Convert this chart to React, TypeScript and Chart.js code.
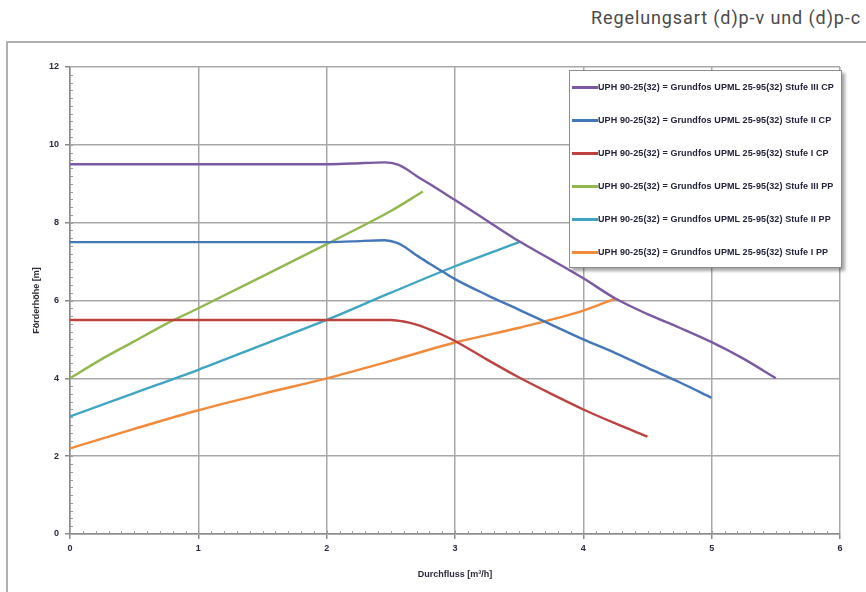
import React, { useEffect, useRef } from "react";
import { Chart, registerables } from "chart.js";

Chart.register(...registerables);

const PAGE_TITLE = "Regelungsart (d)p-v und (d)p-c";
const X_TITLE = "Durchfluss [m³/h]";
const Y_TITLE = "Förderhöhe [m]";
const X_MIN = 0;
const X_MAX = 6;
const Y_MIN = 0;
const Y_MAX = 12;
const X_STEP = 1;
const Y_STEP = 2;
const X_MINOR = 0.1;
const Y_MINOR = 0.2;

const LABELS = [
  "UPH 90-25(32) = Grundfos UPML 25-95(32) Stufe III CP",
  "UPH 90-25(32) = Grundfos UPML 25-95(32) Stufe II CP",
  "UPH 90-25(32) = Grundfos UPML 25-95(32) Stufe I CP",
  "UPH 90-25(32) = Grundfos UPML 25-95(32) Stufe III PP",
  "UPH 90-25(32) = Grundfos UPML 25-95(32) Stufe II PP",
  "UPH 90-25(32) = Grundfos UPML 25-95(32) Stufe I PP",
];
const COLORS = ["#7b5aa3", "#4477b8", "#bd4341", "#91b84b", "#3ea6c2", "#f28a3a"];

// Stufe III CP
const cp3X = [0, 0.5, 1, 1.5, 2, 2.2, 2.45, 2.55, 2.62, 2.7, 2.8, 3.0, 3.25, 3.5, 3.75, 4.0, 4.25, 4.5, 4.75, 5.0, 5.25, 5.5];
const cp3Y = [9.5, 9.5, 9.5, 9.5, 9.5, 9.52, 9.55, 9.5, 9.38, 9.2, 9.0, 8.58, 8.05, 7.52, 7.05, 6.57, 6.05, 5.65, 5.3, 4.93, 4.5, 4.0];
// Stufe II CP
const cp2X = [0, 0.5, 1, 1.5, 2, 2.2, 2.45, 2.55, 2.62, 2.7, 2.8, 2.9, 3.0, 3.25, 3.5, 3.75, 4.0, 4.25, 4.5, 4.75, 5.0];
const cp2Y = [7.5, 7.5, 7.5, 7.5, 7.5, 7.52, 7.55, 7.48, 7.35, 7.16, 6.95, 6.75, 6.55, 6.14, 5.76, 5.38, 5.0, 4.65, 4.27, 3.9, 3.5];
// Stufe I CP
const cp1X = [0, 0.5, 1, 1.5, 2, 2.3, 2.5, 2.6, 2.7, 2.8, 2.9, 3.0, 3.25, 3.5, 3.75, 4.0, 4.25, 4.5];
const cp1Y = [5.5, 5.5, 5.5, 5.5, 5.5, 5.5, 5.5, 5.46, 5.38, 5.26, 5.12, 4.96, 4.48, 4.02, 3.6, 3.2, 2.84, 2.5];
// Stufe III PP
const pp3X = [0, 0.25, 0.5, 0.75, 1, 1.5, 2, 2.5, 2.75];
const pp3Y = [4.0, 4.5, 4.95, 5.4, 5.8, 6.62, 7.45, 8.3, 8.8];
// Stufe II PP
const pp2X = [0, 0.5, 1, 1.5, 2, 2.5, 3.0, 3.5];
const pp2Y = [3.02, 3.62, 4.22, 4.86, 5.5, 6.2, 6.88, 7.5];
// Stufe I PP
const pp1X = [0, 0.5, 1, 1.5, 2, 2.5, 3.0, 3.5, 4.0, 4.25];
const pp1Y = [2.2, 2.7, 3.18, 3.6, 4.0, 4.45, 4.92, 5.3, 5.74, 6.05];

const SERIES_X = [cp3X, cp2X, cp1X, pp3X, pp2X, pp1X];
const SERIES_Y = [cp3Y, cp2Y, cp1Y, pp3Y, pp2Y, pp1Y];

const TICK_FONT = { family: "'Liberation Sans', Arial, sans-serif", size: 9, weight: "bold" as const };
const TITLE_FONT = { family: "'Liberation Sans', Arial, sans-serif", size: 9, weight: "bold" as const };

const minorTicksPlugin = {
  id: "minorTicks",
  beforeDatasetsDraw(chart: any) {
    const { ctx, chartArea, scales } = chart;
    const xs = scales.x;
    const ys = scales.y;
    ctx.save();
    ctx.strokeStyle = "#9a9a9a";
    ctx.lineWidth = 1;
    ctx.beginPath();
    const nx = Math.round((X_MAX - X_MIN) / X_MINOR);
    for (let i = 1; i < nx; i++) {
      const px = Math.round(xs.getPixelForValue(X_MIN + i * X_MINOR)) + 0.5;
      ctx.moveTo(px, chartArea.bottom);
      ctx.lineTo(px, chartArea.bottom - 3);
    }
    const ny = Math.round((Y_MAX - Y_MIN) / Y_MINOR);
    for (let i = 1; i < ny; i++) {
      const py = Math.round(ys.getPixelForValue(Y_MIN + i * Y_MINOR)) + 0.5;
      ctx.moveTo(chartArea.left, py);
      ctx.lineTo(chartArea.left + 3, py);
    }
    ctx.stroke();
    ctx.restore();
  },
};

function ChartCanvas() {
  const ref = useRef<HTMLCanvasElement | null>(null);
  useEffect(() => {
    if (!ref.current) return;
    const datasets = LABELS.map((label, i) => ({
      label,
      data: SERIES_X[i].map((x, j) => ({ x, y: SERIES_Y[i][j] })),
      borderColor: COLORS[i],
      backgroundColor: COLORS[i],
      borderWidth: 2.4,
      pointRadius: 0,
      fill: false,
      cubicInterpolationMode: "monotone" as const,
    }));
    const chart = new Chart(ref.current, {
      type: "line",
      data: { datasets },
      plugins: [minorTicksPlugin],
      options: {
        animation: false,
        responsive: false,
        maintainAspectRatio: false,
        layout: { padding: { left: 0, top: 67, right: 26, bottom: 0 } },
        plugins: {
          legend: { display: false },
          tooltip: { enabled: false },
        },
        scales: {
          x: {
            type: "linear",
            min: X_MIN,
            max: X_MAX,
            ticks: {
              stepSize: X_STEP,
              font: TICK_FONT,
              color: "#2a2a3a",
              padding: 4,
              maxRotation: 0,
            },
            grid: { color: "#a8a8a8", lineWidth: 1.5, tickLength: 5, tickColor: "#8a8a8a" },
            border: { color: "#8a8a8a", width: 1.5 },
            title: {
              display: true,
              text: X_TITLE,
              font: TITLE_FONT,
              color: "#2a2a3a",
              padding: { top: 0, bottom: 12 },
            },
            afterFit: (s: any) => {
              s.height = 58;
            },
          },
          y: {
            type: "linear",
            min: Y_MIN,
            max: Y_MAX,
            ticks: {
              stepSize: Y_STEP,
              font: TICK_FONT,
              color: "#2a2a3a",
              padding: 6,
            },
            grid: { color: "#a8a8a8", lineWidth: 1.5, tickLength: 5, tickColor: "#8a8a8a" },
            border: { color: "#8a8a8a", width: 1.5 },
            title: {
              display: true,
              text: Y_TITLE,
              font: TITLE_FONT,
              color: "#2a2a3a",
              padding: { top: 31, bottom: 0 },
            },
            afterFit: (s: any) => {
              s.width = 70;
            },
          },
        },
      },
    });
    return () => chart.destroy();
  }, []);
  return (
    <canvas
      ref={ref}
      width={866}
      height={592}
      style={{ position: "absolute", left: 0, top: 0, width: 866, height: 592 }}
    />
  );
}

function Legend() {
  return (
    <div
      style={{
        position: "absolute",
        left: 569,
        top: 70,
        width: 273,
        height: 198,
        boxSizing: "border-box",
        border: "1.5px solid #8c8c8c",
        background: "#fff",
        boxShadow: "3px 3px 3px rgba(0,0,0,0.35)",
      }}
    >
      {LABELS.map((label, i) => (
        <div
          key={i}
          style={{
            position: "absolute",
            left: 2,
            top: 16 + i * 33 - 6,
            height: 12,
            display: "flex",
            alignItems: "center",
            whiteSpace: "nowrap",
          }}
        >
          <div style={{ width: 26, height: 3, background: COLORS[i] }} />
          <span
            style={{
              fontFamily: "'Liberation Sans', Arial, sans-serif",
              fontWeight: "bold",
              fontSize: 9,
              letterSpacing: "0.1px",
              color: "#22223a",
              lineHeight: "12px",
            }}
          >
            {label}
          </span>
        </div>
      ))}
    </div>
  );
}

export default function App() {
  return (
    <div
      style={{
        position: "fixed",
        left: 0,
        top: 0,
        width: 866,
        height: 592,
        overflow: "hidden",
        background: "#fff",
      }}
    >
      <div
        style={{
          position: "absolute",
          left: 591,
          top: 7,
          fontFamily: "Roboto, 'Noto Sans', sans-serif",
          fontSize: 18,
          letterSpacing: "0.9px",
          color: "#4a4a4a",
          whiteSpace: "nowrap",
        }}
      >
        {PAGE_TITLE}
      </div>
      <div
        style={{
          position: "absolute",
          left: 6,
          top: 41,
          width: 900,
          height: 600,
          boxSizing: "border-box",
          border: "2px solid #b0b0b0",
        }}
      />
      <ChartCanvas />
      <Legend />
    </div>
  );
}
